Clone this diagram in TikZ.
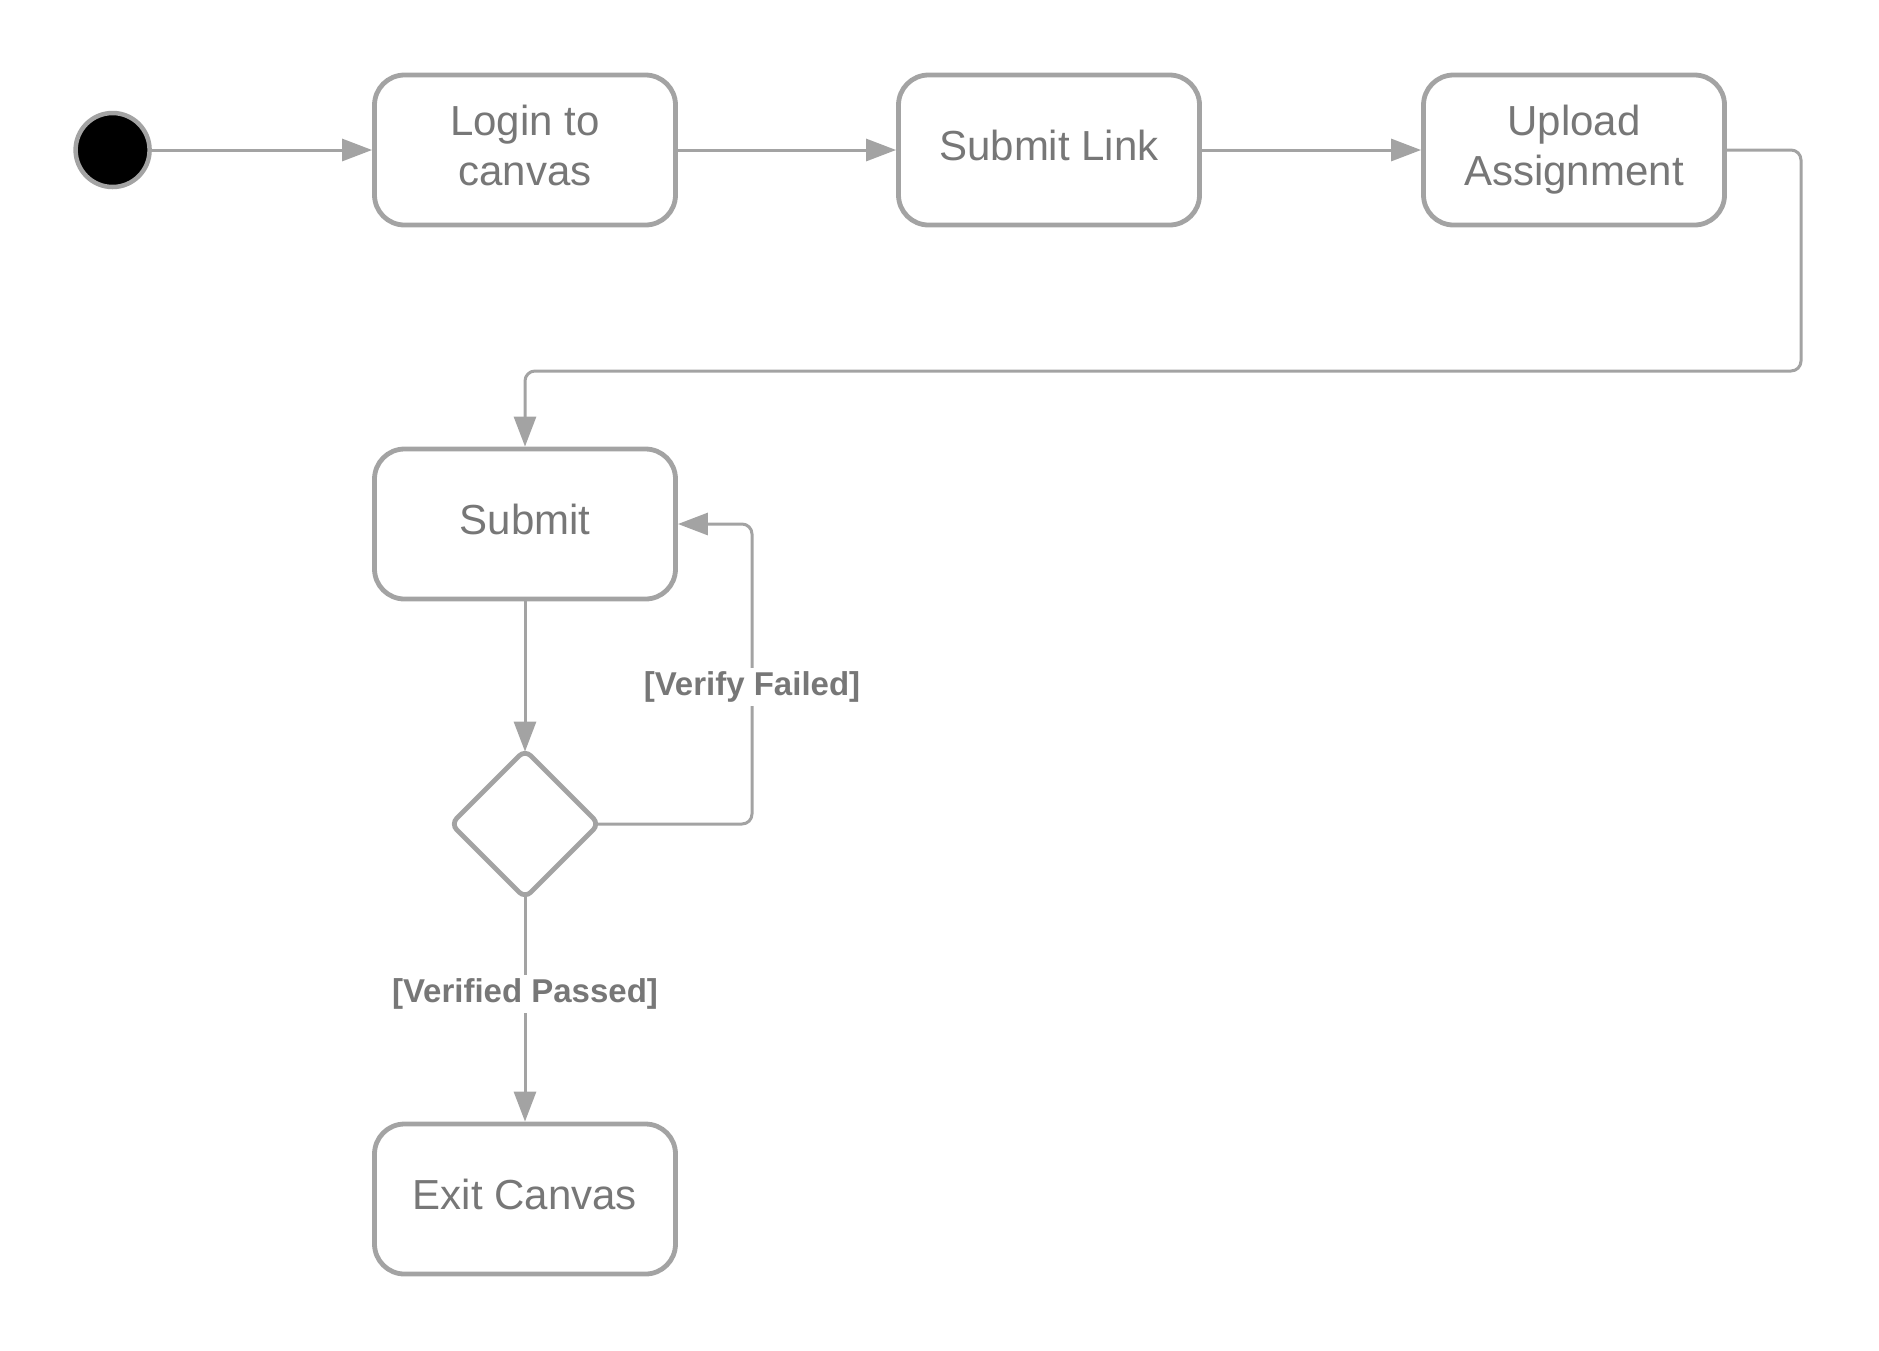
\documentclass[tikz,border=0pt]{standalone}
\usepackage{fontspec}
\setmainfont{Liberation Sans}
\usetikzlibrary{arrows.meta,shapes.geometric}
\definecolor{lineC}{HTML}{A3A3A3}
\definecolor{textC}{HTML}{777777}
\begin{document}
\begin{tikzpicture}[x=1pt,y=-1pt,
  state/.style={draw=lineC, line width=4.8pt, rounded corners=30pt, fill=white,
    minimum width=301pt, minimum height=150pt, inner sep=0pt, align=center,
    text=textC, font=\fontsize{42}{50}\selectfont, text depth=10pt},
  decision/.style={draw=lineC, line width=4.8pt, diamond, rounded corners=8pt,
    minimum width=150pt, minimum height=150pt, inner sep=0pt},
  conn/.style={draw=lineC, line width=3pt, rounded corners=10pt,
    -{Triangle[length=30pt,width=22pt]}},
  guard/.style={fill=white, text=textC, font=\bfseries\fontsize{33}{38}\selectfont, inner sep=4pt}
]
\useasboundingbox (0,0) rectangle (1879,1350);
\node[circle, draw=lineC, line width=4.5pt, fill=black, minimum size=74pt, inner sep=0pt] (start) at (112.6,150) {};
\node[state] (login) at (525,150) {Login to\\canvas};
\node[state] (link) at (1049,150) {Submit Link};
\node[state] (upload) at (1574,150) {Upload\\Assignment};
\node[state] (submit) at (525,524) {Submit};
\node[decision] (dec) at (525,824) {};
\node[state] (exit) at (525,1199) {Exit Canvas};

\path[conn] (start) -- (login);
\path[conn] (login) -- (link);
\path[conn] (link) -- (upload);
\path[conn] (upload.east) -- (1801,150) -- (1801,371) -- (525,371) -- (submit.north);
\path[conn, shorten >=-5pt] (submit) -- (dec);
\path[conn, shorten <=-5pt] (dec.east) -- (752,824) -- (752,524) -- (submit.east);
\path[conn, shorten <=-5pt] (dec) -- (exit);

\node[guard] (lf) at (752,687) {[Verify Failed]};
\node[guard] (lp) at (525,994) {[Verified Passed]};
\end{tikzpicture}
\end{document}
